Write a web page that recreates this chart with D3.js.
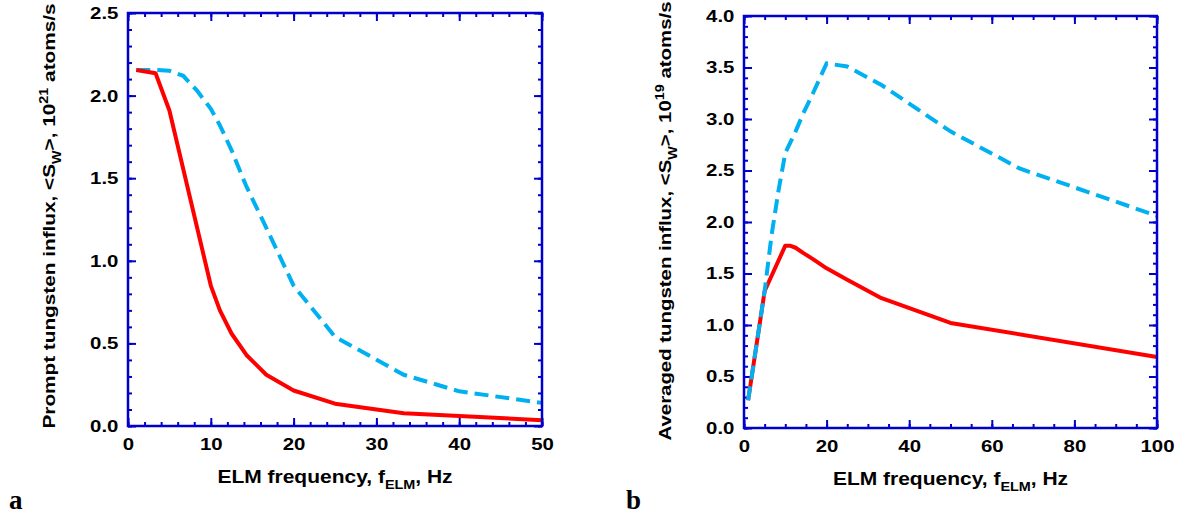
<!DOCTYPE html>
<html>
<head>
<meta charset="utf-8">
<script src="https://cdn.jsdelivr.net/npm/d3@7"></script>
<style>
  body { margin: 0; background: #fff; }
  svg { display: block; font-family: "Liberation Sans", Arial, sans-serif; }
  .tick text { font-size: 17px; font-weight: bold; fill: #000; }
  .axis-title { font-size: 17.5px; font-weight: bold; fill: #000; }
</style>
</head>
<body>
<script>
"use strict";

// panel a: prompt influx vs ELM frequency
const promptFreqRed = [1, 3.33, 5, 10, 11.1, 12.5, 14.3, 16.7, 20, 25, 33.3, 50];
const promptRed = [2.155, 2.135, 1.91, 0.85, 0.70, 0.56, 0.43, 0.31, 0.215, 0.135, 0.077, 0.035];
const promptFreqBlue = [1, 3.33, 5, 6.67, 8.33, 10, 11.1, 12.5, 14.3, 16.7, 20, 25, 33.3, 40, 50];
const promptBlue = [2.155, 2.155, 2.15, 2.12, 2.03, 1.92, 1.82, 1.67, 1.45, 1.20, 0.85, 0.54, 0.31, 0.21, 0.14];

// panel b: averaged influx vs ELM frequency
const avgFreqRed = [1, 5, 10, 11.1, 12.5, 14.3, 16.7, 20, 25, 33.3, 50, 100];
const avgRed = [0.27, 1.33, 1.77, 1.77, 1.75, 1.70, 1.64, 1.55, 1.44, 1.26, 1.02, 0.69];
const avgFreqBlue = [1, 5, 6.67, 8.33, 10, 12.5, 14.3, 16.7, 20, 25, 33.3, 50, 66.7, 100];
const avgBlue = [0.27, 1.33, 1.87, 2.30, 2.67, 2.88, 3.05, 3.25, 3.54, 3.51, 3.33, 2.88, 2.52, 2.06];

const xTicksA = [0, 10, 20, 30, 40, 50];
const xTicksB = [0, 20, 40, 60, 80, 100];
const yTicksA = [0, 0.5, 1.0, 1.5, 2.0, 2.5];
const yTicksB = [0, 0.5, 1.0, 1.5, 2.0, 2.5, 3.0, 3.5, 4.0];

const axisColor = "#0000cc";
const redColor = "#ff0000";
const blueColor = "#00b0f0";
// the original lettering is a bit wider than Arial
const stretch = 1.2;

const svg = d3.select("body")
  .append("svg")
    .attr("width", 1181)
    .attr("height", 517);

svg.append("rect")
  .attr("width", 1181)
  .attr("height", 517)
  .attr("fill", "#fff");

function drawPanel(opts) {
  const x = d3.scaleLinear().domain(opts.xDomain).range([opts.left, opts.right]);
  const y = d3.scaleLinear().domain(opts.yDomain).range([opts.bottom, opts.top]);
  const g = svg.append("g");

  const xMinor = d3.range(opts.xDomain[0], opts.xDomain[1] + 1e-9, opts.xMinorStep);
  const yMinor = d3.range(opts.yDomain[0], opts.yDomain[1] + 1e-9, opts.yMinorStep);

  // minor ticks on all four sides
  const minorAxes = [
    [d3.axisBottom(x), `translate(0,${opts.bottom})`, xMinor],
    [d3.axisTop(x), `translate(0,${opts.top})`, xMinor],
    [d3.axisLeft(y), `translate(${opts.left},0)`, yMinor],
    [d3.axisRight(y), `translate(${opts.right},0)`, yMinor],
  ];
  for (const [axis, tr, vals] of minorAxes) {
    g.append("g")
      .attr("transform", tr)
      .call(axis.tickValues(vals).tickSize(-4).tickSizeOuter(0).tickFormat(""))
      .call(s => s.select(".domain").remove());
  }

  // major ticks, labels only on bottom and left
  g.append("g")
    .attr("transform", `translate(0,${opts.bottom})`)
    .call(d3.axisBottom(x).tickValues(opts.xTicks).tickSize(-8).tickSizeOuter(0).tickPadding(12).tickFormat(d3.format("d")))
    .call(s => s.select(".domain").remove());
  g.append("g")
    .attr("transform", `translate(0,${opts.top})`)
    .call(d3.axisTop(x).tickValues(opts.xTicks).tickSize(-8).tickSizeOuter(0).tickFormat(""))
    .call(s => s.select(".domain").remove());
  g.append("g")
    .attr("transform", `translate(${opts.left},0)`)
    .call(d3.axisLeft(y).tickValues(opts.yTicks).tickSize(-8).tickSizeOuter(0).tickPadding(8).tickFormat(d3.format(".1f")))
    .call(s => s.select(".domain").remove());
  g.append("g")
    .attr("transform", `translate(${opts.right},0)`)
    .call(d3.axisRight(y).tickValues(opts.yTicks).tickSize(-8).tickSizeOuter(0).tickFormat(""))
    .call(s => s.select(".domain").remove());

  g.selectAll("g").attr("font-family", null).attr("font-size", null);
  g.selectAll(".tick line").attr("stroke", axisColor).attr("stroke-width", 2);
  g.selectAll(".tick text").attr("transform", `scale(${stretch},1)`);

  const line = d3.line()
    .x(d => x(d[0]))
    .y(d => y(d[1]));

  const red = g.append("path")
    .datum(d3.zip(opts.redX, opts.redY))
    .attr("fill", "none")
    .attr("stroke", redColor)
    .attr("stroke-width", 4)
    .attr("stroke-linejoin", "round")
    .attr("d", line);

  const blue = g.append("path")
    .datum(d3.zip(opts.blueX, opts.blueY))
    .attr("fill", "none")
    .attr("stroke", blueColor)
    .attr("stroke-width", 4)
    .attr("stroke-dasharray", "14,7")
    .attr("d", line);

  if (opts.redOnTop) red.raise();

  // frame
  g.append("rect")
    .attr("x", opts.left)
    .attr("y", opts.top)
    .attr("width", opts.right - opts.left)
    .attr("height", opts.bottom - opts.top)
    .attr("fill", "none")
    .attr("stroke", axisColor)
    .attr("stroke-width", 2.5);

  // x title with subscript
  const xt = g.append("text")
    .attr("class", "axis-title")
    .attr("transform", `translate(${(opts.left + opts.right) / 2},${opts.bottom + 57}) scale(${stretch},1)`)
    .attr("text-anchor", "middle");
  xt.append("tspan").text("ELM frequency, f");
  xt.append("tspan").attr("dy", 6).attr("font-size", 12).text("ELM");
  xt.append("tspan").attr("dy", -6).text(", Hz");

  // y title with subscript and superscript
  const yt = g.append("text")
    .attr("class", "axis-title")
    .style("font-size", `${opts.yTitleSize}px`)
    .attr("transform", `translate(${opts.left - 73},${opts.yTitleCenter}) rotate(-90) scale(${stretch},1)`)
    .attr("text-anchor", "middle");
  yt.append("tspan").text(opts.yTitle + ", <S");
  yt.append("tspan").attr("dy", 6).attr("font-size", 12).text("W");
  yt.append("tspan").attr("dy", -6).text(">, 10");
  yt.append("tspan").attr("dy", -7).attr("font-size", 12).text(opts.yExp);
  yt.append("tspan").attr("dy", 7).text(" atoms/s");

  // panel letter
  svg.append("text")
    .attr("x", opts.letterX)
    .attr("y", 509)
    .attr("font-family", "'Liberation Serif', 'Times New Roman', serif")
    .attr("font-weight", "bold")
    .attr("font-size", 27)
    .text(opts.letter);
}

drawPanel({
  left: 128, right: 542, top: 13, bottom: 426,
  xDomain: [0, 50], yDomain: [0, 2.5],
  xTicks: xTicksA, yTicks: yTicksA,
  xMinorStep: 2, yMinorStep: 0.1,
  redX: promptFreqRed, redY: promptRed,
  blueX: promptFreqBlue, blueY: promptBlue,
  redOnTop: true,
  yTitle: "Prompt tungsten influx", yExp: "21",
  yTitleSize: 17.3, yTitleCenter: 216,
  letter: "a", letterX: 9,
});

drawPanel({
  left: 744, right: 1157, top: 16, bottom: 428,
  xDomain: [0, 100], yDomain: [0, 4.0],
  xTicks: xTicksB, yTicks: yTicksB,
  xMinorStep: 5, yMinorStep: 0.1,
  redX: avgFreqRed, redY: avgRed,
  blueX: avgFreqBlue, blueY: avgBlue,
  redOnTop: false,
  yTitle: "Averaged tungsten influx", yExp: "19",
  yTitleSize: 17, yTitleCenter: 221,
  letter: "b", letterX: 626,
});
</script>
</body>
</html>
